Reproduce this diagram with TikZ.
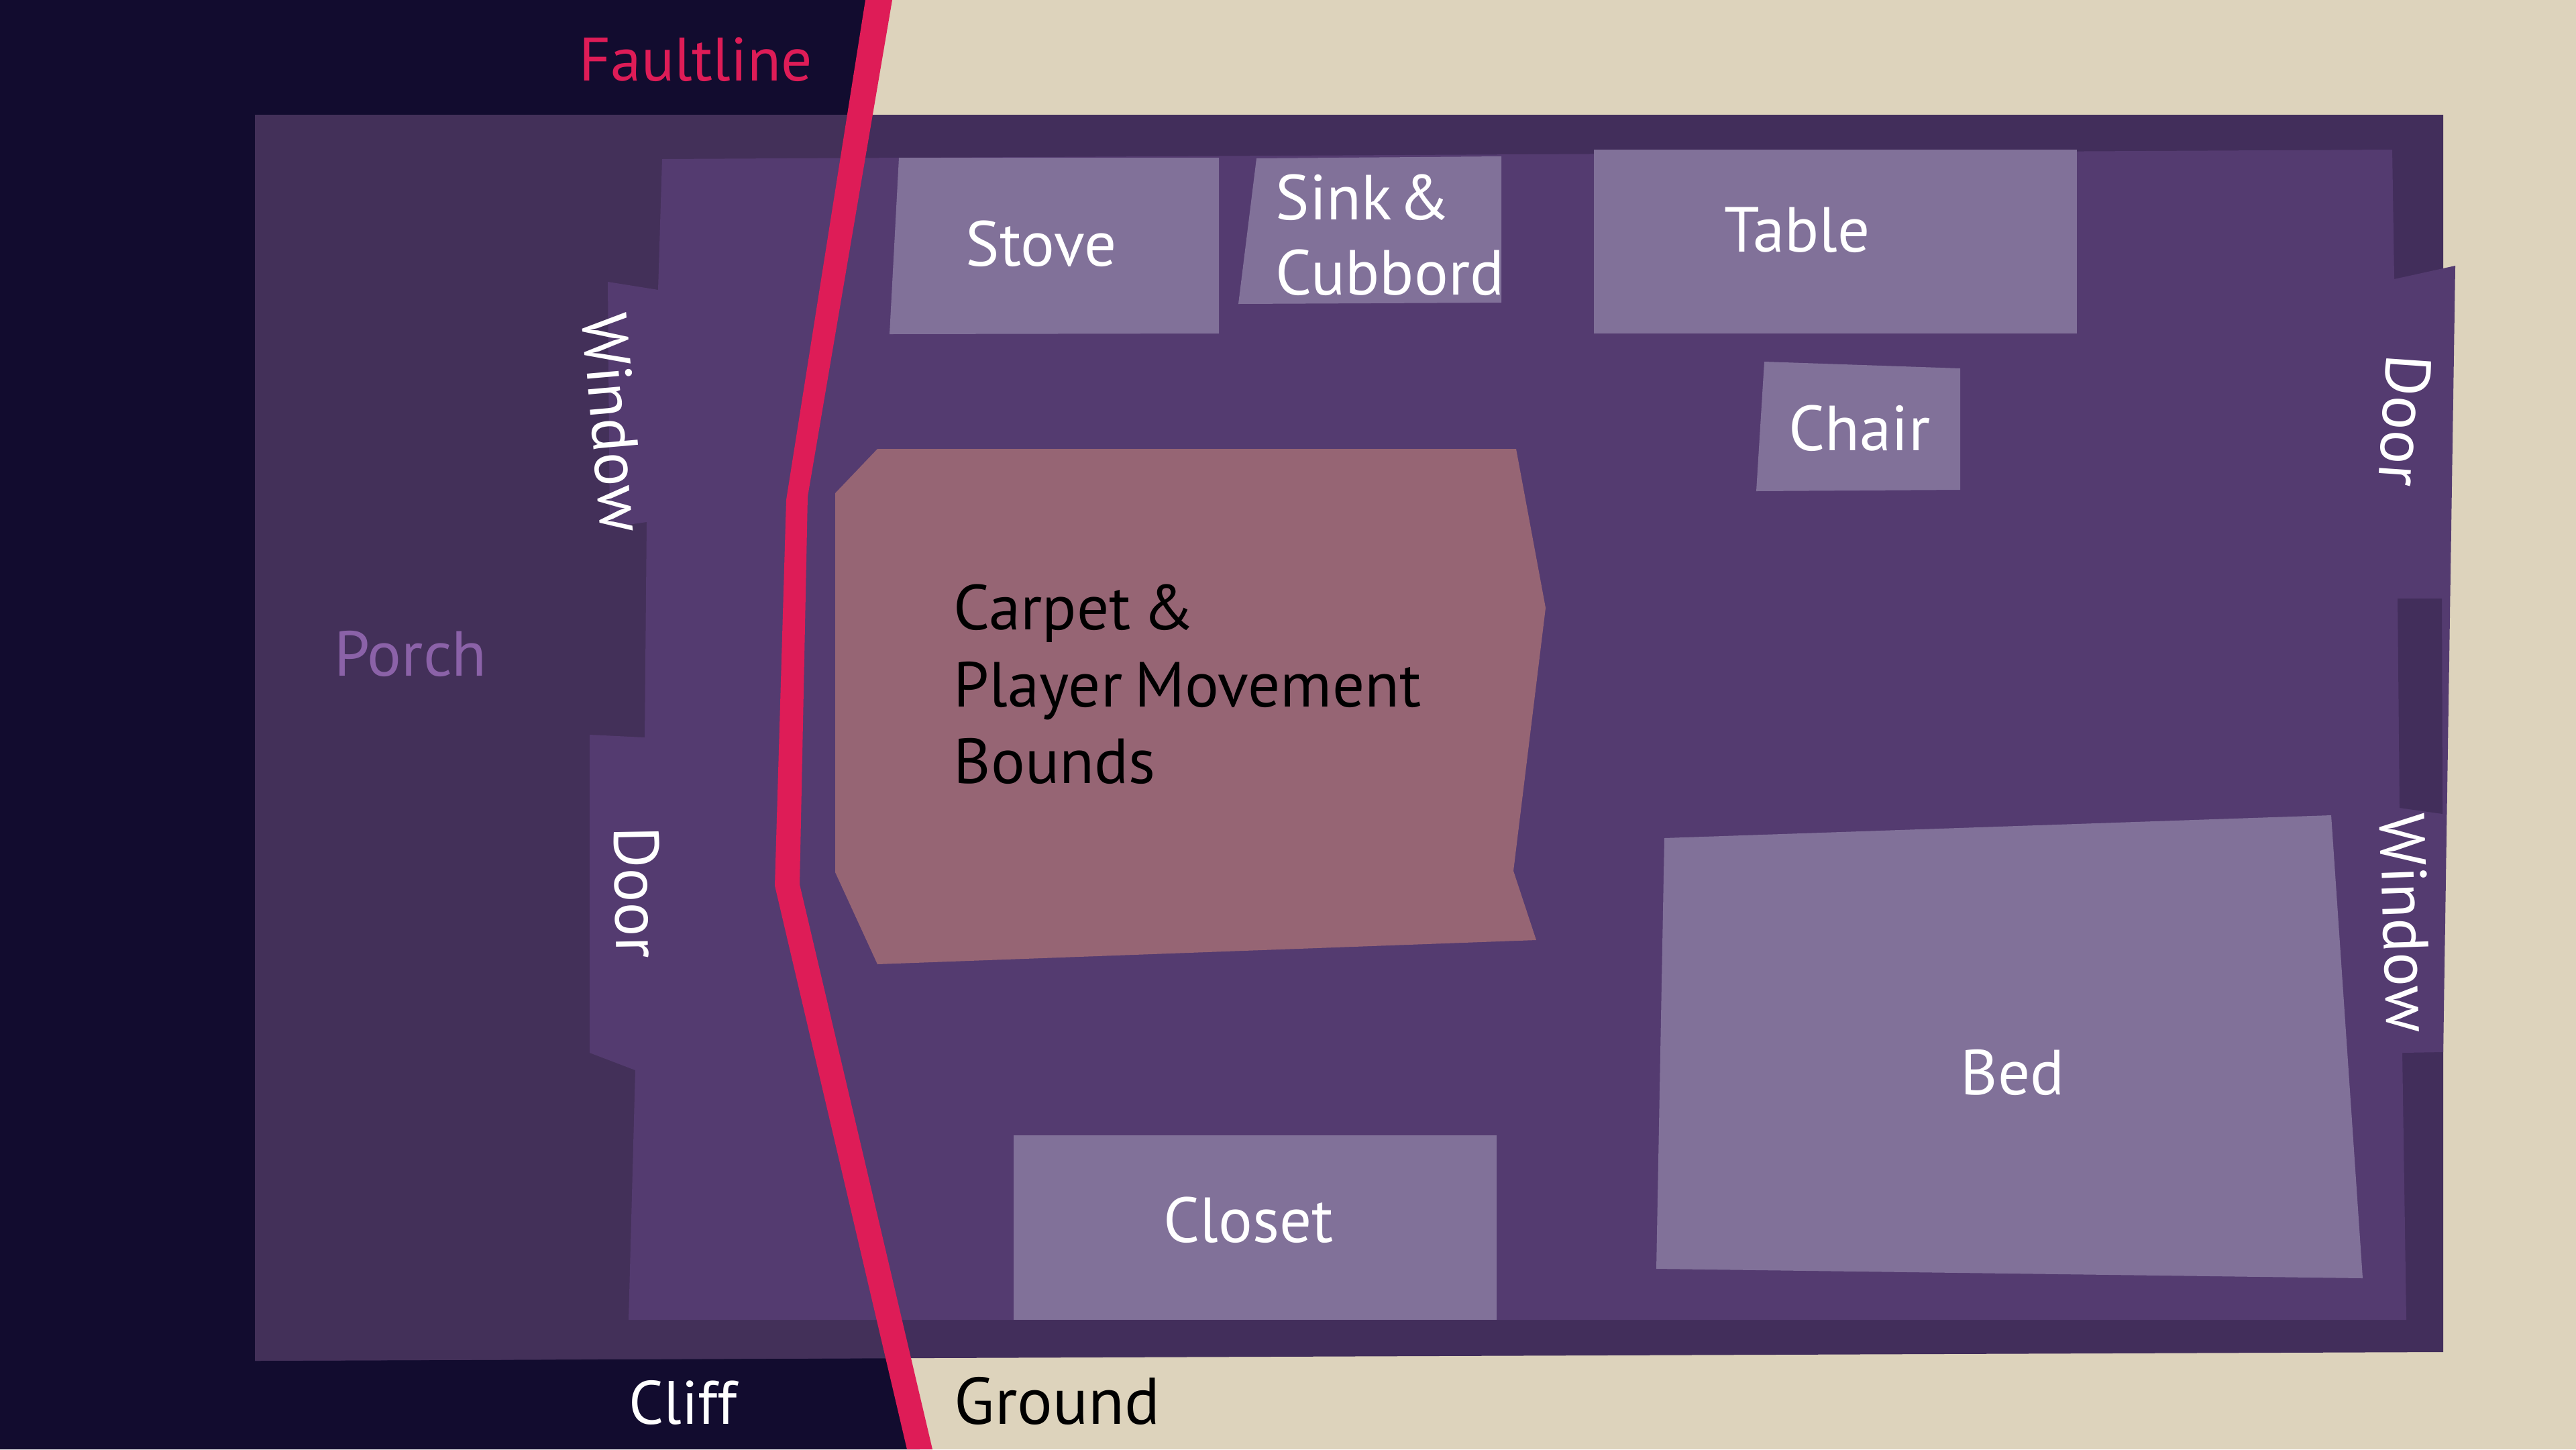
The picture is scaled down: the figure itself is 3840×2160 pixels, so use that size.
\documentclass[tikz,border=0pt]{standalone}
\usepackage{fontspec}
\setmainfont{PT Sans}[WordSpace=0.7]
\definecolor{ground}{HTML}{DDD3BC}
\definecolor{cliff}{HTML}{120C2F}
\definecolor{outer}{HTML}{422E5B}
\definecolor{porch}{HTML}{433059}
\definecolor{room}{HTML}{543B70}
\definecolor{furniture}{HTML}{817199}
\definecolor{carpet}{HTML}{966574}
\definecolor{fault}{HTML}{DE1C57}
\definecolor{porchtext}{HTML}{8B62A8}

\begin{document}
\begin{tikzpicture}
[
x=0.01cm, y=-0.01cm,
furniture/.style={
% The filling:
fill=furniture,
},
label/.style={
% The font:
font=\fontsize{27}{32}\selectfont,
% The text:
text=white,
inner sep=0pt,
anchor=base,
},
darklabel/.style={
label,
text=black,
anchor=base west,
},
sidelabel/.style={
label,
anchor=center,
},
]
    \useasboundingbox (0,0) rectangle (3840,2160);
    % ground and cliff
    \fill[ground] (0,0) rectangle (3840,2160);
    \fill[cliff] (0,0) -- (1310,0) -- (1185,740) -- (1175,1320) -- (1371,2160) -- (0,2160) -- cycle;
    % house and porch
    \fill[outer] (380,171) -- (3642,171) -- (3642,2015) -- (380,2028) -- cycle;
    \fill[porch] (380,171) -- (1262,171) -- (1185,740) -- (1175,1320) -- (1336,2024) -- (380,2028) -- cycle;
    % room with door and window tabs
    \fill[room] (987,237) -- (3566,223) -- (3569,416) -- (3660,396) -- (3642,1568) -- (3581,1569)
        -- (3587,1967) -- (937,1967) -- (947,1595) -- (879,1569) -- (879,1095) -- (961,1099)
        -- (964,778) -- (909,786) -- (906,420) -- (981,432) -- cycle;
    \fill[outer] (3574,892) -- (3640,892) -- (3641,1213) -- (3577,1204) -- cycle;
    % carpet
    \fill[carpet] (1308,669) -- (2260,669) -- (2304,906) -- (2256,1298) -- (2290,1401) -- (1308,1437)
        -- (1245,1300) -- (1245,735) -- cycle;
    % furniture
    \fill[furniture] (1340,235) -- (1817,235) -- (1817,497) -- (1326,498) -- cycle;
    \fill[furniture] (1873,236) -- (2238,233) -- (2238,451) -- (1846,453) -- cycle;
    \fill[furniture] (2376,223) -- (3096,223) -- (3096,497) -- (2376,497) -- cycle;
    \fill[furniture] (2630,539) -- (2922,549) -- (2922,730) -- (2618,732) -- cycle;
    \fill[furniture] (2481,1249) -- (3475,1215) -- (3522,1905) -- (2469,1891) -- cycle;
    \fill[furniture] (1511,1692) -- (2231,1692) -- (2231,1967) -- (1511,1967) -- cycle;
    % faultline
    \fill[fault] (1290,0) -- (1330,0) -- (1204,740) -- (1192,1318) -- (1390,2160) -- (1352,2160)
        -- (1155,1320) -- (1172,745) -- cycle;
    % labels
    \node[label, text=fault, font=\fontsize{26}{31}\selectfont] (faultline) at (1037,120) {Faultline};
    \node[label] (stove) at (1552,396) {Stove};
    \node[label, anchor=base west] (sink) at (1901,327) {Sink\kern0.1em\&};
    \node[label, anchor=base west] (cubbord) at (1901,439) {Cubbord};
    \node[label] (table) at (2679,375) {Table};
    \node[label] (chair) at (2772,671) {Chair};
    \node[darklabel] (carpet1) at (1421,938) {Carpet \&};
    \node[darklabel] (carpet2) at (1421,1053) {Player Movement};
    \node[darklabel] (carpet3) at (1421,1167) {Bounds};
    \node[label, text=porchtext] (porchlabel) at (612,1007) {Porch};
    \node[label] (bed) at (3000,1631) {Bed};
    \node[label] (closet) at (1861,1851) {Closet};
    \node[label, font=\fontsize{26}{31}\selectfont] (cliff) at (1018,2122) {Cliff};
    \node[label, text=black, font=\fontsize{28}{33}\selectfont] (ground) at (1576,2122) {Ground};
    \node[sidelabel, rotate=-85] (windowa) at (915,630) {Window};
    \node[sidelabel, rotate=-89] (doora) at (950,1330) {Door};
    \node[sidelabel, rotate=-94] (doorb) at (3585,627) {Door};
    \node[sidelabel, rotate=-88] (windowb) at (3586,1376) {Window};
\end{tikzpicture}
\end{document}
